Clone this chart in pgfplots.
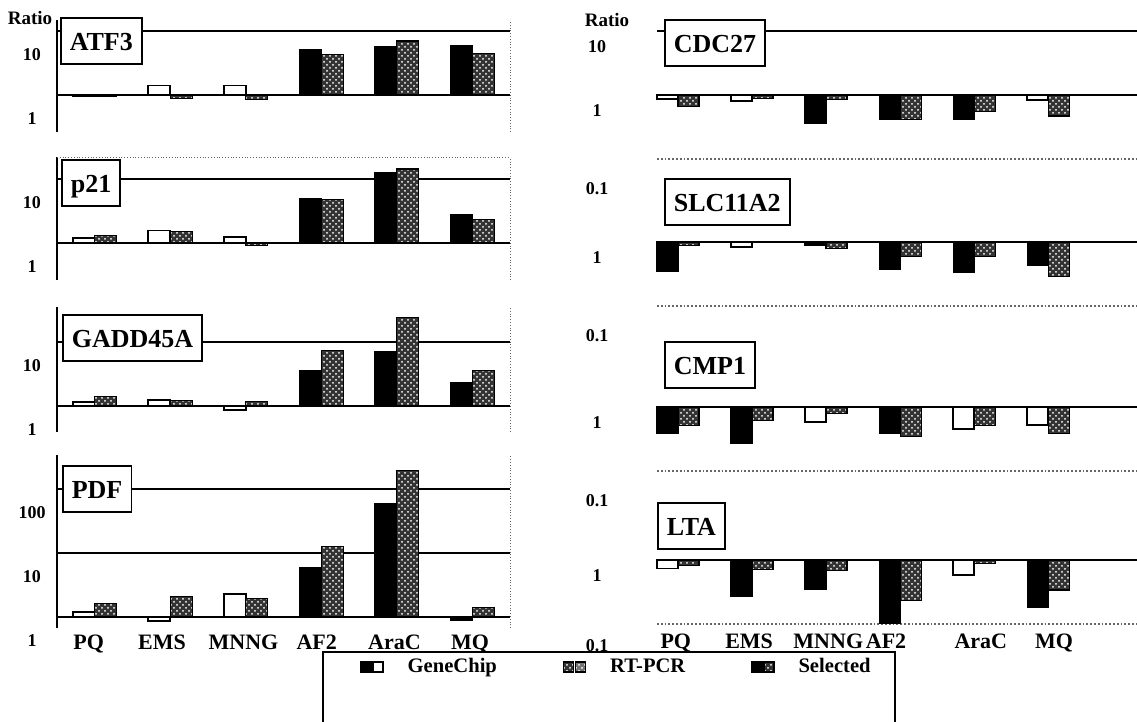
\documentclass[border=0pt]{standalone}
\usepackage{fontspec}
\setmainfont{Liberation Serif}
\usepackage{pgfplots}
\pgfplotsset{compat=1.18}
\usetikzlibrary{patterns}

\pgfplotsset{
  every axis/.append style={
    scale only axis,
    axis line style={draw=none}, major tick length=0pt, minor tick length=0pt,
    yminorticks=false,
    ymajorgrids, major grid style={black, line width=0.9pt},
    clip=false,
  },
  every y tick label/.append style={font=\bfseries\fontsize{9}{9}\selectfont, anchor=center},
  every x tick label/.append style={font=\bfseries\fontsize{11}{11}\selectfont},
}
\tikzset{
  gcblack/.style={fill=black, draw=black, line width=0.6pt},
  gcwhite/.style={fill=white, draw=black, line width=0.8pt},
  rtpcr/.style={fill=black!80, draw=black, line width=0.6pt,
    postaction={pattern=crosshatch dots, pattern color=white}},
  box/.style={draw=black, line width=0.8pt, fill=white, anchor=north west,
    inner xsep=4.5pt, minimum height=23pt, text height=9.5pt, text depth=0pt,
    font=\bfseries\fontsize{13}{13}\selectfont},
  ratiolbl/.style={font=\bfseries\fontsize{9.5}{9.5}\selectfont},
}

\begin{document}
\begin{tikzpicture}
\useasboundingbox (0pt,0pt) rectangle (568.5pt,361pt);

% ---- left column ----
\begin{axis}[ymode=log, width=226.5pt, xmin=-0.5, xmax=5.5, xtick=\empty,
  yticklabel style={xshift=-12.5pt, yshift=-12pt},
  at={(28.5pt,295pt)}, anchor=south west, height=56pt,
  ymin=0.2641, ymax=14.86, ytick={1,10}, yticklabels={1,10}]
\addplot[ybar, forget plot, bar width=11pt, bar shift=-5.5pt, gcblack] coordinates {(0,0.96) (3,5.05) (4,5.69) (5,5.83)};
\addplot[ybar, forget plot, bar width=11pt, bar shift=-5.5pt, gcwhite] coordinates {(1,1.40) (2,1.40)};
\addplot[ybar, forget plot, bar width=11pt, bar shift=5.5pt, rtpcr] coordinates {(0,0.96) (1,0.89) (2,0.84) (3,4.32) (4,6.98) (5,4.48)};
\draw[line width=0.9pt] (rel axis cs:0,0) -- (rel axis cs:0,1);
\draw[black!60, densely dotted] (rel axis cs:1,0) -- (rel axis cs:1,1);
\end{axis}

\begin{axis}[ymode=log, width=226.5pt, xmin=-0.5, xmax=5.5, xtick=\empty,
  yticklabel style={xshift=-12.5pt, yshift=-12pt},
  at={(28.5pt,221pt)}, anchor=south west, height=61.5pt,
  ymin=0.2641, ymax=22.07, ytick={1,10}, yticklabels={1,10}]
\addplot[ybar, forget plot, bar width=11pt, bar shift=-5.5pt, gcwhite] coordinates {(0,1.20) (1,1.56) (2,1.24)};
\addplot[ybar, forget plot, bar width=11pt, bar shift=-5.5pt, gcblack] coordinates {(3,4.88) (4,12.7) (5,2.74)};
\addplot[ybar, forget plot, bar width=11pt, bar shift=5.5pt, rtpcr] coordinates {(0,1.30) (1,1.52) (2,0.92) (3,4.75) (4,14.3) (5,2.31)};
\draw[line width=0.9pt] (rel axis cs:0,0) -- (rel axis cs:0,1);
\draw[black!60, densely dotted] (rel axis cs:1,0) -- (rel axis cs:1,1);
\draw[black!60, densely dotted] (rel axis cs:0,1) -- (rel axis cs:1,1);
\end{axis}

\begin{axis}[ymode=log, width=226.5pt, xmin=-0.5, xmax=5.5, xtick=\empty,
  yticklabel style={xshift=-12.5pt, yshift=-12pt},
  at={(28.5pt,145pt)}, anchor=south west, height=62.5pt,
  ymin=0.3924, ymax=35.24, ytick={1,10}, yticklabels={1,10}]
\addplot[ybar, forget plot, bar width=11pt, bar shift=-5.5pt, gcwhite] coordinates {(0,1.15) (1,1.25) (2,0.86)};
\addplot[ybar, forget plot, bar width=11pt, bar shift=-5.5pt, gcblack] coordinates {(3,3.52) (4,6.98) (5,2.32)};
\addplot[ybar, forget plot, bar width=11pt, bar shift=5.5pt, rtpcr] coordinates {(0,1.42) (1,1.23) (2,1.18) (3,7.42) (4,24.0) (5,3.6)};
\draw[line width=0.9pt] (rel axis cs:0,0) -- (rel axis cs:0,1);
\draw[black!60, densely dotted] (rel axis cs:1,0) -- (rel axis cs:1,1);
\end{axis}

\begin{axis}[ymode=log, width=226.5pt, xmin=-0.5, xmax=5.5,
  yticklabel style={xshift=-12.5pt, yshift=-12pt},
  at={(28.5pt,47pt)}, anchor=south west, height=86.5pt,
  ymin=0.6731, ymax=339.8, ytick={1,10,100}, yticklabels={1,10,100},
  xtick={-0.08,0.89,1.97,2.94,3.97,4.97},
  xticklabels={PQ,EMS,MNNG,AF2,AraC,MQ},
  legend style={at={(0.669,-0.2254)}, anchor=west, draw=none, fill=none,
    inner sep=0pt, font=\bfseries\fontsize{10.3}{10.3}\selectfont,
    /tikz/every odd column/.append style={column sep=10pt},
    /tikz/every even column/.append style={column sep=31pt}},
  legend columns=3, legend cell align=left]
\addlegendimage{legend image code/.code={
  \draw[fill=black, line width=0.6pt] (0pt,-2.5pt) rectangle (5pt,2.5pt);
  \draw[fill=white, line width=0.6pt] (6pt,-2.5pt) rectangle (11pt,2.5pt);}}
\addlegendentry{GeneChip}
\addlegendimage{legend image code/.code={
  \draw[fill=black!80, line width=0.6pt, postaction={pattern=crosshatch dots, pattern color=white}] (0pt,-2.5pt) rectangle (5pt,2.5pt);
  \draw[fill=black!55, line width=0.6pt, postaction={pattern=crosshatch dots, pattern color=white}] (6pt,-2.5pt) rectangle (11pt,2.5pt);}}
\addlegendentry{RT-PCR}
\addlegendimage{legend image code/.code={
  \draw[fill=black, line width=0.6pt] (0pt,-2.5pt) rectangle (5pt,2.5pt);
  \draw[fill=black!80, line width=0.6pt, postaction={pattern=crosshatch dots, pattern color=white}] (6pt,-2.5pt) rectangle (11pt,2.5pt);}}
\addlegendentry{Selected}
\addplot[ybar, forget plot, bar width=11pt, bar shift=-5.5pt, gcwhite] coordinates {(0,1.20) (1,0.86) (2,2.29)};
\addplot[ybar, forget plot, bar width=11pt, bar shift=-5.5pt, gcblack] coordinates {(3,5.83) (4,59) (5,0.89)};
\addplot[ybar, forget plot, bar width=11pt, bar shift=5.5pt, rtpcr] coordinates {(0,1.61) (1,2.10) (2,1.93) (3,12.7) (4,195) (5,1.41)};
\draw[line width=0.9pt] (rel axis cs:0,0) -- (rel axis cs:0,1);
\draw[black!60, densely dotted] (rel axis cs:1,0) -- (rel axis cs:1,1);
\end{axis}

% ---- right column ----
\begin{axis}[ymode=log, width=240pt, xmin=-0.284, xmax=6.2, xtick=\empty,
  yticklabel style={xshift=-30pt, yshift=-8pt},
  extra y ticks={0.1}, extra y tick labels={0.1},
  extra y tick style={grid=major, major grid style={black!60, densely dotted, line width=0.8pt}, yticklabel style={yshift=-7pt}},
  at={(328.5pt,281.5pt)}, anchor=south west, height=69.5pt,
  ymin=0.1, ymax=14.86, ytick={1,10}, yticklabels={1,10}]
\addplot[ybar, forget plot, bar width=10.5pt, bar shift=-5.25pt, gcwhite] coordinates {(0,0.87) (1,0.81) (5,0.84)};
\addplot[ybar, forget plot, bar width=10.5pt, bar shift=-5.25pt, gcblack] coordinates {(2,0.36) (3,0.42) (4,0.42)};
\addplot[ybar, forget plot, bar width=10.5pt, bar shift=5.25pt, rtpcr] coordinates {(0,0.66) (1,0.87) (2,0.84) (3,0.42) (4,0.55) (5,0.47)};
\end{axis}

\begin{axis}[ymode=log, width=240pt, xmin=-0.284, xmax=6.2, xtick=\empty,
  yticklabel style={xshift=-30pt, yshift=-8pt},
  extra y ticks={0.1}, extra y tick labels={0.1},
  extra y tick style={grid=major, major grid style={black!60, densely dotted, line width=0.8pt}, yticklabel style={yshift=-7pt}},
  at={(328.5pt,208pt)}, anchor=south west, height=70.5pt,
  ymin=0.1, ymax=15.96, ytick={1}, yticklabels={1}]
\addplot[ybar, forget plot, bar width=10.5pt, bar shift=-5.25pt, gcblack] coordinates {(0,0.35) (2,0.90) (3,0.37) (4,0.34) (5,0.43)};
\addplot[ybar, forget plot, bar width=10.5pt, bar shift=-5.25pt, gcwhite] coordinates {(1,0.84)};
\addplot[ybar, forget plot, bar width=10.5pt, bar shift=5.25pt, rtpcr] coordinates {(0,0.89) (1,0.97) (2,0.80) (3,0.60) (4,0.60) (5,0.29)};
\end{axis}

\begin{axis}[ymode=log, width=240pt, xmin=-0.284, xmax=6.2, xtick=\empty,
  yticklabel style={xshift=-30pt, yshift=-8pt},
  extra y ticks={0.1}, extra y tick labels={0.1},
  extra y tick style={grid=major, major grid style={black!60, densely dotted, line width=0.8pt}, yticklabel style={yshift=-7pt}},
  at={(328.5pt,125.5pt)}, anchor=south west, height=79pt,
  ymin=0.1, ymax=29.43, ytick={1}, yticklabels={1}]
\addplot[ybar, forget plot, bar width=10.5pt, bar shift=-5.25pt, gcblack] coordinates {(0,0.39) (1,0.27) (3,0.39)};
\addplot[ybar, forget plot, bar width=10.5pt, bar shift=-5.25pt, gcwhite] coordinates {(2,0.58) (4,0.45) (5,0.52)};
\addplot[ybar, forget plot, bar width=10.5pt, bar shift=5.25pt, rtpcr] coordinates {(0,0.52) (1,0.62) (2,0.79) (3,0.35) (4,0.52) (5,0.39)};
\end{axis}

\begin{axis}[ymode=log, width=240pt, xmin=-0.284, xmax=6.2,
  yticklabel style={xshift=-30pt, yshift=-8pt},
  extra y ticks={0.1}, extra y tick labels={0.1},
  extra y tick style={grid=major, major grid style={black!60, densely dotted, line width=0.8pt}, yticklabel style={yshift=-3pt}},
  at={(328.5pt,49pt)}, anchor=south west, height=74.5pt,
  ymin=0.1, ymax=21.29, ytick={1}, yticklabels={1},
  xtick={-0.03,0.96,2.03,2.81,4.09,5.08},
  xticklabels={PQ,EMS,MNNG,AF2,AraC,MQ},
  xticklabel style={yshift=-1.5pt}]
\addplot[ybar, forget plot, bar width=10.5pt, bar shift=-5.25pt, gcwhite] coordinates {(0,0.74) (4,0.58)};
\addplot[ybar, forget plot, bar width=10.5pt, bar shift=-5.25pt, gcblack] coordinates {(1,0.27) (2,0.35) (3,0.101) (5,0.18)};
\addplot[ybar, forget plot, bar width=10.5pt, bar shift=5.25pt, rtpcr] coordinates {(0,0.81) (1,0.71) (2,0.68) (3,0.23) (4,0.89) (5,0.34)};
\end{axis}

% ---- legend frame (open at the bottom, cut by the page) ----
\draw[line width=0.8pt] (161.5pt,-5pt) -- (161.5pt,35pt) -- (447.5pt,35pt) -- (447.5pt,-5pt);

% ---- panel names ----
\node[box] at (30pt,352.5pt) {ATF3};
\node[box] at (30.5pt,281.5pt) {p21};
\node[box] at (31pt,204pt) {GADD45A};
\node[box] at (31pt,128.5pt) {PDF};
\node[box] at (332pt,351.5pt) {CDC27};
\node[box] at (332pt,272pt) {SLC11A2};
\node[box] at (332pt,190.5pt) {CMP1};
\node[box] at (328.5pt,110pt) {LTA};
\node[ratiolbl] at (15pt,352pt) {Ratio};
\node[ratiolbl] at (303.5pt,351pt) {Ratio};
\end{tikzpicture}
\end{document}
